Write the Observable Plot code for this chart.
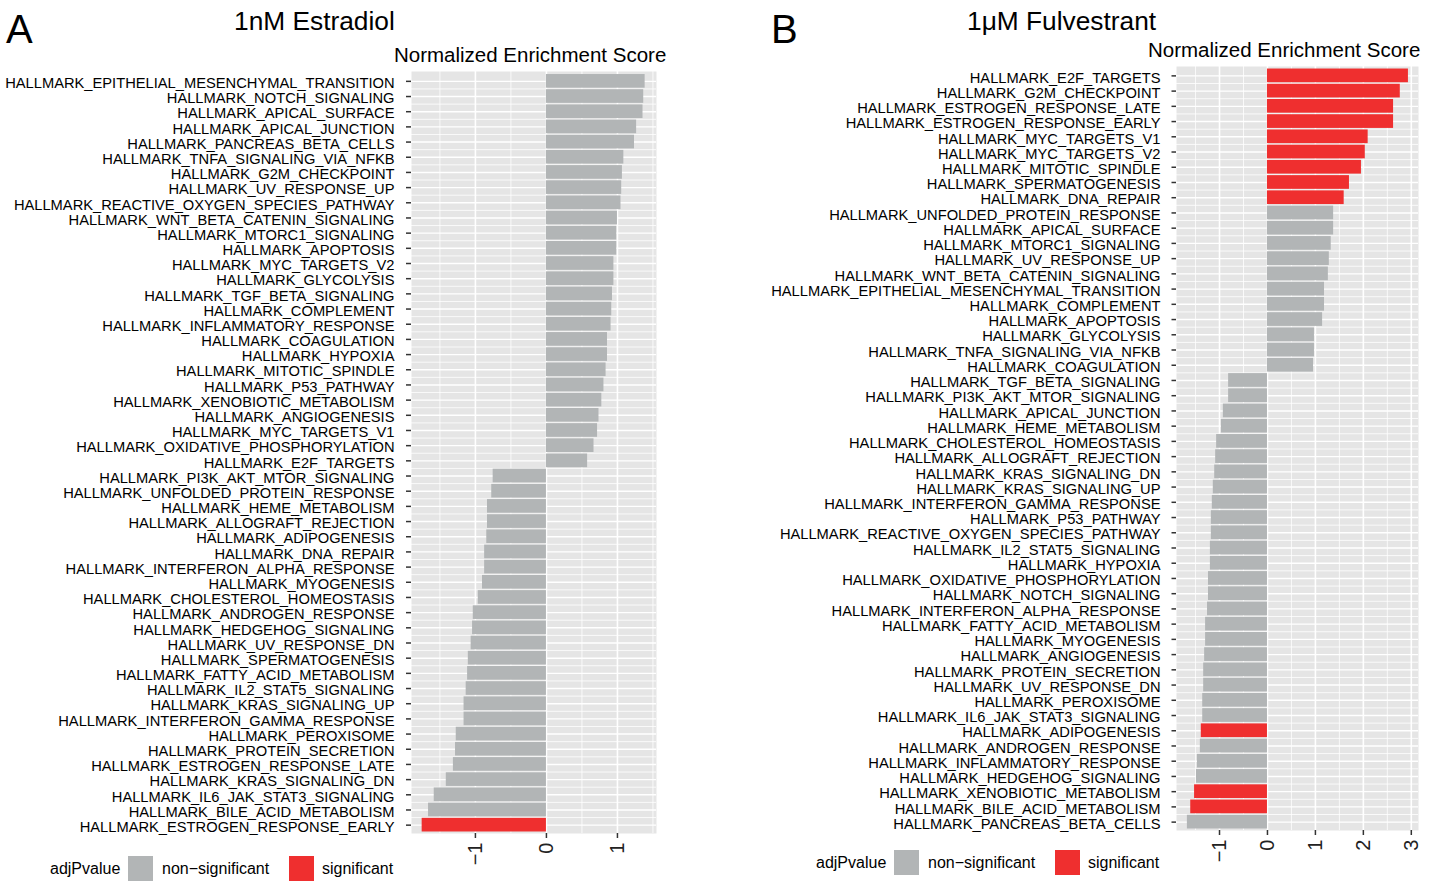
<!DOCTYPE html>
<html>
<head>
<meta charset="utf-8">
<script src="https://cdn.jsdelivr.net/npm/d3@7"></script>
<script src="https://cdn.jsdelivr.net/npm/@observablehq/plot@0.6"></script>
<style>
  html, body { margin: 0; padding: 0; background: #fff; }
  body { width: 1439px; height: 883px; position: relative; overflow: hidden;
         font-family: "Liberation Sans", Arial, Helvetica, sans-serif; color: #000; }
  .abs { position: absolute; white-space: nowrap; line-height: 1; }
  .panel { position: absolute; top: 0; }
  .tag { font-size: 40px; }
  .title { font-size: 26.3px; }
  .xtitle { font-size: 20.5px; }
  .leg { font-size: 16px; }
  .sw { position: absolute; width: 25px; height: 25px; }
</style>
</head>
<body>
<div id="panelA" class="panel" style="left:0px"></div>
<div id="panelB" class="panel" style="left:700px"></div>

<div class="abs tag" style="left:6px; top:9px;">A</div>
<div class="abs title" style="left:234px; top:8px;">1nM Estradiol</div>
<div class="abs xtitle" style="left:394px; top:45px;">Normalized Enrichment Score</div>

<div class="abs tag" style="left:771px; top:9px;">B</div>
<div class="abs title" style="left:967px; top:8px;">1μM Fulvestrant</div>
<div class="abs xtitle" style="left:1148px; top:40px;">Normalized Enrichment Score</div>

<div id="legA"></div>
<div id="legB"></div>

<script>
// ---------- data ----------
const sigLevels = ["non\u2212significant", "significant"];
const sigColors = ["#b2b5b6", "#ef2f2f"];

const categoriesA = [
  "HALLMARK_EPITHELIAL_MESENCHYMAL_TRANSITION","HALLMARK_NOTCH_SIGNALING","HALLMARK_APICAL_SURFACE",
  "HALLMARK_APICAL_JUNCTION","HALLMARK_PANCREAS_BETA_CELLS","HALLMARK_TNFA_SIGNALING_VIA_NFKB",
  "HALLMARK_G2M_CHECKPOINT","HALLMARK_UV_RESPONSE_UP","HALLMARK_REACTIVE_OXYGEN_SPECIES_PATHWAY",
  "HALLMARK_WNT_BETA_CATENIN_SIGNALING","HALLMARK_MTORC1_SIGNALING","HALLMARK_APOPTOSIS",
  "HALLMARK_MYC_TARGETS_V2","HALLMARK_GLYCOLYSIS","HALLMARK_TGF_BETA_SIGNALING",
  "HALLMARK_COMPLEMENT","HALLMARK_INFLAMMATORY_RESPONSE","HALLMARK_COAGULATION",
  "HALLMARK_HYPOXIA","HALLMARK_MITOTIC_SPINDLE","HALLMARK_P53_PATHWAY",
  "HALLMARK_XENOBIOTIC_METABOLISM","HALLMARK_ANGIOGENESIS","HALLMARK_MYC_TARGETS_V1",
  "HALLMARK_OXIDATIVE_PHOSPHORYLATION","HALLMARK_E2F_TARGETS","HALLMARK_PI3K_AKT_MTOR_SIGNALING",
  "HALLMARK_UNFOLDED_PROTEIN_RESPONSE","HALLMARK_HEME_METABOLISM","HALLMARK_ALLOGRAFT_REJECTION",
  "HALLMARK_ADIPOGENESIS","HALLMARK_DNA_REPAIR","HALLMARK_INTERFERON_ALPHA_RESPONSE",
  "HALLMARK_MYOGENESIS","HALLMARK_CHOLESTEROL_HOMEOSTASIS","HALLMARK_ANDROGEN_RESPONSE",
  "HALLMARK_HEDGEHOG_SIGNALING","HALLMARK_UV_RESPONSE_DN","HALLMARK_SPERMATOGENESIS",
  "HALLMARK_FATTY_ACID_METABOLISM","HALLMARK_IL2_STAT5_SIGNALING","HALLMARK_KRAS_SIGNALING_UP",
  "HALLMARK_INTERFERON_GAMMA_RESPONSE","HALLMARK_PEROXISOME","HALLMARK_PROTEIN_SECRETION",
  "HALLMARK_ESTROGEN_RESPONSE_LATE","HALLMARK_KRAS_SIGNALING_DN","HALLMARK_IL6_JAK_STAT3_SIGNALING",
  "HALLMARK_BILE_ACID_METABOLISM","HALLMARK_ESTROGEN_RESPONSE_EARLY"
];
const nesA = [
  1.39, 1.37, 1.36, 1.27, 1.24, 1.09, 1.07, 1.06, 1.05, 1.00,
  0.99, 0.99, 0.95, 0.95, 0.93, 0.92, 0.91, 0.86, 0.86, 0.84,
  0.81, 0.78, 0.74, 0.72, 0.67, 0.58, -0.75, -0.77, -0.83, -0.83,
  -0.84, -0.87, -0.87, -0.90, -0.96, -1.03, -1.04, -1.06, -1.10, -1.11,
  -1.13, -1.16, -1.16, -1.27, -1.28, -1.31, -1.41, -1.58, -1.66, -1.75
];
const sigA = [
  0,0,0,0,0,0,0,0,0,0, 0,0,0,0,0,0,0,0,0,0, 0,0,0,0,0,0,0,0,0,0,
  0,0,0,0,0,0,0,0,0,0, 0,0,0,0,0,0,0,0,0,1
];

const categoriesB = [
  "HALLMARK_E2F_TARGETS","HALLMARK_G2M_CHECKPOINT","HALLMARK_ESTROGEN_RESPONSE_LATE",
  "HALLMARK_ESTROGEN_RESPONSE_EARLY","HALLMARK_MYC_TARGETS_V1","HALLMARK_MYC_TARGETS_V2",
  "HALLMARK_MITOTIC_SPINDLE","HALLMARK_SPERMATOGENESIS","HALLMARK_DNA_REPAIR",
  "HALLMARK_UNFOLDED_PROTEIN_RESPONSE","HALLMARK_APICAL_SURFACE","HALLMARK_MTORC1_SIGNALING",
  "HALLMARK_UV_RESPONSE_UP","HALLMARK_WNT_BETA_CATENIN_SIGNALING","HALLMARK_EPITHELIAL_MESENCHYMAL_TRANSITION",
  "HALLMARK_COMPLEMENT","HALLMARK_APOPTOSIS","HALLMARK_GLYCOLYSIS",
  "HALLMARK_TNFA_SIGNALING_VIA_NFKB","HALLMARK_COAGULATION","HALLMARK_TGF_BETA_SIGNALING",
  "HALLMARK_PI3K_AKT_MTOR_SIGNALING","HALLMARK_APICAL_JUNCTION","HALLMARK_HEME_METABOLISM",
  "HALLMARK_CHOLESTEROL_HOMEOSTASIS","HALLMARK_ALLOGRAFT_REJECTION","HALLMARK_KRAS_SIGNALING_DN",
  "HALLMARK_KRAS_SIGNALING_UP","HALLMARK_INTERFERON_GAMMA_RESPONSE","HALLMARK_P53_PATHWAY",
  "HALLMARK_REACTIVE_OXYGEN_SPECIES_PATHWAY","HALLMARK_IL2_STAT5_SIGNALING","HALLMARK_HYPOXIA",
  "HALLMARK_OXIDATIVE_PHOSPHORYLATION","HALLMARK_NOTCH_SIGNALING","HALLMARK_INTERFERON_ALPHA_RESPONSE",
  "HALLMARK_FATTY_ACID_METABOLISM","HALLMARK_MYOGENESIS","HALLMARK_ANGIOGENESIS",
  "HALLMARK_PROTEIN_SECRETION","HALLMARK_UV_RESPONSE_DN","HALLMARK_PEROXISOME",
  "HALLMARK_IL6_JAK_STAT3_SIGNALING","HALLMARK_ADIPOGENESIS","HALLMARK_ANDROGEN_RESPONSE",
  "HALLMARK_INFLAMMATORY_RESPONSE","HALLMARK_HEDGEHOG_SIGNALING","HALLMARK_XENOBIOTIC_METABOLISM",
  "HALLMARK_BILE_ACID_METABOLISM","HALLMARK_PANCREAS_BETA_CELLS"
];
const nesB = [
  2.94, 2.77, 2.63, 2.63, 2.10, 2.04, 1.96, 1.71, 1.60, 1.38,
  1.38, 1.33, 1.29, 1.27, 1.19, 1.19, 1.15, 0.98, 0.98, 0.96,
  -0.81, -0.81, -0.92, -0.96, -1.06, -1.08, -1.10, -1.13, -1.15, -1.17,
  -1.17, -1.19, -1.19, -1.23, -1.23, -1.25, -1.29, -1.29, -1.31, -1.33,
  -1.33, -1.35, -1.35, -1.38, -1.40, -1.46, -1.48, -1.52, -1.60, -1.67
];
const sigB = [
  1,1,1,1,1,1,1,1,1,0, 0,0,0,0,0,0,0,0,0,0, 0,0,0,0,0,0,0,0,0,0,
  0,0,0,0,0,0,0,0,0,0, 0,0,0,1,0,0,0,1,1,0
];

const ticksA = [-1, 0, 1];
const ticksB = [-1, 0, 1, 2, 3];

// ---------- drawing ----------
const FONT = '"Liberation Sans", Arial, Helvetica, sans-serif';

function panel(cats, nes, sig, ticks, cfg) {
  const data = cats.map((c, i) => ({pathway: c, nes: nes[i], sig: sigLevels[sig[i]]}));
  const [lo, hi] = cfg.domain;
  const minor = d3.range(Math.ceil(lo * 2) / 2, hi, 0.5).filter(v => !Number.isInteger(v));
  const major = ticks;
  const pad = 0.1;
  const innerH = cfg.height - cfg.marginTop - cfg.marginBottom;
  const step = innerH / (cats.length - pad + 2 * pad);
  return Plot.plot({
    width: cfg.width,
    height: cfg.height,
    marginLeft: cfg.marginLeft,
    marginRight: cfg.marginRight,
    marginTop: cfg.marginTop,
    marginBottom: cfg.marginBottom,
    style: {fontFamily: FONT, fontSize: "14.7px", color: "#000", background: "transparent", overflow: "visible"},
    x: {domain: cfg.domain, label: null},
    y: {domain: cats, padding: pad, round: false, label: null},
    color: {domain: sigLevels, range: sigColors},
    marks: [
      Plot.frame({fill: "#e5e5e5", stroke: "none", insetTop: -cfg.frameExtra}),
      Plot.ruleX(minor, {stroke: "white", strokeWidth: 0.8, insetTop: -cfg.frameExtra}),
      Plot.ruleX(major, {stroke: "white", strokeWidth: 1.6, insetTop: -cfg.frameExtra}),
      Plot.ruleY(cats.slice(1), {stroke: "white", strokeWidth: 0.8, dy: -step / 2}),
      Plot.ruleY(cats, {stroke: "white", strokeWidth: 1.4}),
      Plot.barX(data, {x: "nes", y: "pathway", fill: "sig"}),
      // tick marks only
      Plot.axisY({tickSize: cfg.tickSize, tickFormat: () => "", stroke: "#333", strokeWidth: 1.5}),
      // labels, nudged slightly downward as in the reference
      Plot.axisY({tickSize: 0, tickPadding: cfg.tickSize + cfg.tickPadY, fill: "#000", fontSize: 14.7, dy: 2}),
      Plot.axisX({ticks: ticks, tickSize: 5, tickPadding: 4, tickRotate: -90, stroke: "#333",
                  strokeWidth: 1.5, fill: "#222", fontSize: 20, tickFormat: d => d3.format("")(d).replace("-", "\u2212")})
    ]
  });
}

document.getElementById("panelA").append(panel(categoriesA, nesA, sigA, ticksA, {
  width: 700, height: 883, marginLeft: 411, marginRight: 44, marginTop: 72.5, marginBottom: 50,
  frameExtra: 1.5, domain: [-1.9, 1.55], tickSize: 5, tickPadY: 12
}));
document.getElementById("panelB").append(panel(categoriesB, nesB, sigB, ticksB, {
  width: 739, height: 883, marginLeft: 476, marginRight: 21, marginTop: 67, marginBottom: 53,
  frameExtra: 1, domain: [-1.897, 3.15], tickSize: 4.5, tickPadY: 11.5
}));

// ---------- legends ----------
function legend(id, x, y) {
  const el = document.getElementById(id);
  const lab = (txt, left) => {
    const d = document.createElement("div");
    d.className = "abs leg"; d.textContent = txt;
    d.style.left = left + "px"; d.style.top = (y + 5) + "px";
    el.append(d);
  };
  const sw = (col, left) => {
    const d = document.createElement("div");
    d.className = "sw"; d.style.background = col;
    d.style.left = left + "px"; d.style.top = y + "px";
    el.append(d);
  };
  lab("adjPvalue", x);
  sw(sigColors[0], x + 78);
  lab(sigLevels[0], x + 112);
  sw(sigColors[1], x + 239);
  lab(sigLevels[1], x + 272);
}
legend("legA", 50, 856);
legend("legB", 816, 850);
</script>
</body>
</html>
